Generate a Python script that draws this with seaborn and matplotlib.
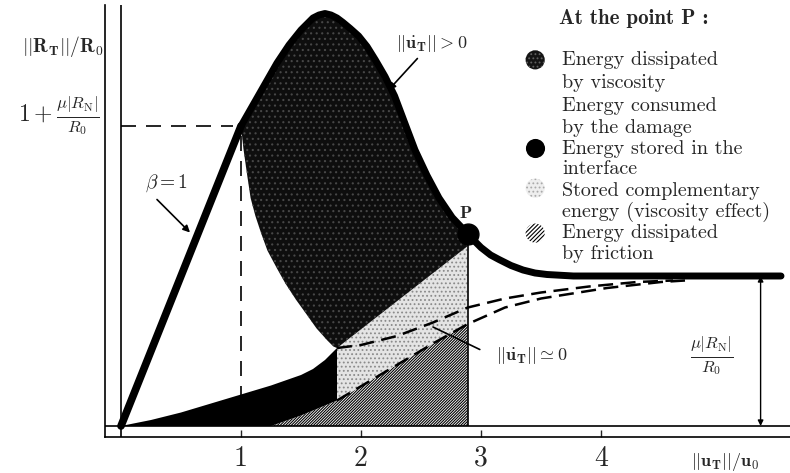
import matplotlib
matplotlib.use("Agg")
import matplotlib.pyplot as plt
import numpy as np
import pandas as pd
import seaborn as sns

# values: x = ||u_T||/u_0, y = ||R_T||/R_0, with mu|R_N|/R_0 = 1
beta_x = [0.0, 1.0]
beta_y = [0.0, 2.0]

peak_x = [1.0, 1.1, 1.2, 1.3, 1.4, 1.5, 1.55, 1.6, 1.65, 1.7, 1.75, 1.8, 1.85, 1.91,
          1.98, 2.05, 2.12, 2.2, 2.28, 2.36, 2.45, 2.55, 2.65, 2.76, 2.89]
peak_y = [2.0, 2.14, 2.28, 2.42, 2.54, 2.64, 2.68, 2.72, 2.74, 2.75, 2.74, 2.72, 2.69, 2.65,
          2.6, 2.53, 2.44, 2.33, 2.2, 2.03, 1.84, 1.67, 1.52, 1.39, 1.28]

tail_x = [2.89, 2.95, 3.0, 3.08, 3.15, 3.25, 3.35, 3.45, 3.55, 3.77, 4.3, 5.0, 5.5]
tail_y = [1.28, 1.23, 1.19, 1.14, 1.11, 1.07, 1.04, 1.02, 1.01, 1.0, 1.0, 1.0, 1.0]

# lower edge of the viscous bulb (top to bottom)
bulb_left_x = [1.0, 1.02, 1.05, 1.08, 1.12, 1.17, 1.22, 1.3, 1.37, 1.46, 1.55, 1.63,
               1.72, 1.77, 1.8]
bulb_left_y = [2.0, 1.85, 1.68, 1.52, 1.4, 1.28, 1.17, 1.05, 0.95, 0.84, 0.74, 0.65,
               0.57, 0.53, 0.52]

compl_top_x = [1.8, 2.89]
compl_top_y = [0.52, 1.2]

stored_x = [0.0, 0.25, 0.5, 0.75, 1.0, 1.25, 1.5, 1.6, 1.7, 1.75, 1.8]
stored_y = [0.0, 0.04, 0.09, 0.15, 0.21, 0.27, 0.34, 0.38, 0.44, 0.48, 0.52]

fric_x = [1.25, 1.5, 1.8, 2.2, 2.6, 2.89, 3.2, 3.5, 4.05, 4.5, 4.7]
fric_y = [0.0, 0.07, 0.17, 0.36, 0.55, 0.68, 0.79, 0.85, 0.92, 0.96, 0.97]

visc_x = [1.8, 2.0, 2.3, 2.6, 2.89, 3.2, 3.5, 3.9, 4.3, 4.6]
visc_y = [0.52, 0.54, 0.6, 0.69, 0.79, 0.85, 0.89, 0.93, 0.96, 0.97]

P_x, P_y = 2.89, 1.28
plateau = 1.0
peak_level = 2.0
x_ticks = [1, 2, 3, 4]

legend_lines = ["Energy dissipated", "by viscosity", "Energy consumed", "by the damage",
                "Energy stored in the", "interface", "Stored complementary",
                "energy (viscosity effect)", "Energy dissipated", "by friction"]

sns.set_style("white")
plt.rcParams["font.family"] = "cmr10"
plt.rcParams["mathtext.fontset"] = "cm"
plt.rcParams["axes.formatter.use_mathtext"] = True
plt.rcParams["hatch.linewidth"] = 0.8

fig = plt.figure(figsize=(7.9, 4.73), dpi=100)
ax = fig.add_axes([105 / 790, 36 / 473, 685 / 790, 432 / 473])

fric = pd.DataFrame({"x": fric_x, "y": fric_y})
inside = fric[fric.x <= P_x]
left = fric[fric.x <= 1.8]
mid = fric[(fric.x >= 1.8) & (fric.x <= P_x)]

# friction (hatched)
ax.fill(list(inside.x) + [P_x], list(inside.y) + [0], facecolor="white",
        edgecolor="black", hatch="/" * 12, lw=0)
# stored in the interface (black)
ax.fill(stored_x + list(left.x[::-1]), stored_y + list(left.y[::-1]),
        color="black", lw=0)
# stored complementary energy (light dots)
ax.fill(list(mid.x) + compl_top_x[::-1], list(mid.y) + compl_top_y[::-1],
        facecolor="#e4e4e4", edgecolor="#8a8a8a", hatch="....", lw=0)
# viscous dissipation (dark dots)
ax.fill(peak_x + compl_top_x[::-1] + bulb_left_x[::-1],
        peak_y + compl_top_y[::-1] + bulb_left_y[::-1],
        facecolor="#0e0e0e", edgecolor="#474747", hatch="...", lw=0)
ax.vlines(P_x, 0, P_y, color="black", lw=1.2)

# dashed limits
ax.plot(list(fric[fric.x >= 1.8].x), list(fric[fric.x >= 1.8].y), color="black",
        lw=1.8, dashes=(6, 3))
ax.plot(visc_x, visc_y, color="black", lw=1.8, dashes=(6, 3))
ax.plot([0, 0.93], [peak_level, peak_level], color="black", lw=1.2, dashes=(9, 6))
ax.plot([1, 1], [0, 1.93], color="black", lw=1.2, dashes=(9, 6))

curve = pd.DataFrame({"x": peak_x + tail_x[1:], "y": peak_y + tail_y[1:]})
sns.lineplot(data=curve, x="x", y="y", color="black", lw=5, sort=False,
             estimator=None, ax=ax, solid_capstyle="round", solid_joinstyle="round")
sns.lineplot(x=beta_x, y=beta_y, color="black", lw=5.5, sort=False,
             estimator=None, ax=ax, solid_capstyle="round")
ax.plot([P_x], [P_y], "o", color="black", ms=15)
ax.text(P_x - 0.02, P_y + 0.14, r"$\mathbf{P}$", fontsize=13, ha="center", va="center")

ax.axhline(0, color="black", lw=1.2)
ax.axvline(0, color="black", lw=1.2)

# annotations
ax.text(2.59, 2.55, r"$||\dot{\mathbf{u}}_\mathbf{T}|| > 0$", fontsize=13,
        ha="center", va="center")
ax.annotate("", xy=(2.23, 2.24), xytext=(2.47, 2.45),
            arrowprops=dict(arrowstyle="-|>", color="black", lw=1.2, shrinkA=0, shrinkB=0))
ax.text(0.38, 1.62, r"$\beta = 1$", fontsize=14, ha="center", va="center")
ax.annotate("", xy=(0.575, 1.29), xytext=(0.3, 1.51),
            arrowprops=dict(arrowstyle="-|>", color="black", lw=1.2, shrinkA=0, shrinkB=0))
ax.text(3.42, 0.47, r"$||\dot{\mathbf{u}}_\mathbf{T}|| \simeq 0$", fontsize=13,
        ha="center", va="center")
ax.annotate("", xy=(2.6, 0.66), xytext=(2.99, 0.51),
            arrowprops=dict(arrowstyle="-", color="black", lw=1.2, shrinkA=0, shrinkB=0))
ax.annotate("", xy=(5.33, 0), xytext=(5.33, plateau),
            arrowprops=dict(arrowstyle="<|-|>", color="black", lw=1.0,
                            mutation_scale=8, shrinkA=0, shrinkB=0))
ax.text(4.92, 0.47, r"$\frac{\mu|R_\mathrm{N}|}{R_0}$", fontsize=17, ha="center", va="center")

# axis texts
ax.text(-0.003, 0.903, r"$||\mathbf{R}_\mathbf{T}||/\mathbf{R}_\mathbf{0}$", fontsize=14,
        ha="right", va="center", transform=ax.transAxes)
ax.text(-0.007, 0.743, r"$1 + \frac{\mu|R_\mathrm{N}|}{R_0}$", fontsize=17,
        ha="right", va="center", transform=ax.transAxes)
ax.text(0.905, -0.058, r"$||\mathbf{u}_\mathbf{T}||/\mathbf{u}_\mathbf{0}$", fontsize=13,
        ha="center", va="center", transform=ax.transAxes)

# legend drawn by hand
ax.text(0.663, 0.968, "At the point P :", fontsize=15, fontfamily="cmb10",
        ha="left", va="center", transform=ax.transAxes)
marker_y = [0.873, 0.669, 0.576, 0.472]
marker_style = [dict(facecolor="#141414", edgecolor="#606060", hatch="...."),
                dict(facecolor="black", edgecolor="black", hatch=None),
                dict(facecolor="#eeeeee", edgecolor="#aaaaaa", hatch="...."),
                dict(facecolor="white", edgecolor="black", hatch="/" * 8)]
for my, st in zip(marker_y, marker_style):
    ax.scatter([0.628], [my], s=190, transform=ax.transAxes, lw=0, clip_on=False, **st)
line_y = [0.873, 0.819, 0.766, 0.715, 0.667, 0.620, 0.569, 0.521, 0.472, 0.424]
for ly, txt in zip(line_y, legend_lines):
    ax.text(0.667, ly, txt, fontsize=14.5, ha="left", va="center", transform=ax.transAxes)

ax.set_xlim(-16 / 120, 669 / 120)
ax.set_ylim(-11 / 150, 421 / 150)
ax.set_xticks(x_ticks)
ax.set_xticklabels([str(t) for t in x_ticks])
ax.set_yticks([])
ax.set_xlabel("")
ax.set_ylabel("")
ax.tick_params(axis="x", direction="in", length=5, width=1, labelsize=20, pad=6, bottom=True)
for side in ["top", "right"]:
    ax.spines[side].set_visible(False)
for side in ["left", "bottom"]:
    ax.spines[side].set_color("black")
    ax.spines[side].set_linewidth(1.2)

fig.savefig("out.png", dpi=100)
